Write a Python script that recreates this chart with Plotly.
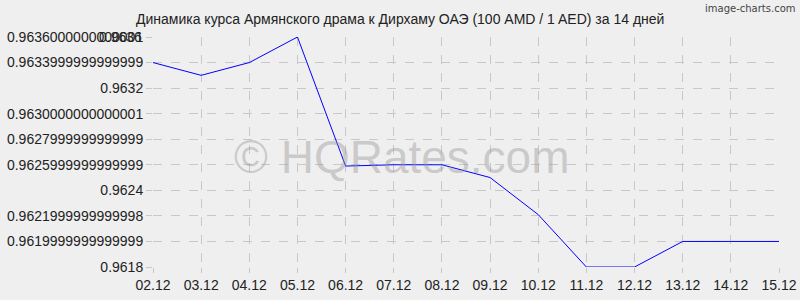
import plotly.graph_objects as go

dates = ["02.12", "03.12", "04.12", "05.12", "06.12", "07.12", "08.12",
         "09.12", "10.12", "11.12", "12.12", "13.12", "14.12", "15.12"]
rates = [0.9634, 0.9633, 0.9634, 0.9636, 0.96259, 0.9626, 0.9626,
         0.9625, 0.96221, 0.9618, 0.9618, 0.9620, 0.9620, 0.9620]
y_tickvals = [0.9636, 0.9634, 0.9632, 0.9630, 0.9628, 0.9626, 0.9624, 0.9622, 0.9620, 0.9618]
y_ticktext = ["0.9636000000000001", "0.9633999999999999", "0.9632", "0.9630000000000001",
              "0.9627999999999999", "0.9625999999999999", "0.9624", "0.9621999999999998",
              "0.9619999999999999", "0.9618"]
title = "Динамика курса Армянского драма к Дирхаму ОАЭ (100 AMD / 1 AED) за 14 дней"

font = "Liberation Sans, Arial, sans-serif"

fig = go.Figure()
fig.add_trace(go.Scatter(x=dates, y=rates, mode="lines",
                         line=dict(color="#0000ff", width=1), hoverinfo="skip"))

fig.update_layout(
    width=800, height=300,
    margin=dict(l=153, r=21, t=37, b=33),
    paper_bgcolor="#efefef", plot_bgcolor="#efefef",
    showlegend=False,
    font=dict(family=font, size=14, color="#222222"),
    xaxis=dict(type="category", range=[0, 13], showgrid=True, gridcolor="#c8c8c8",
               griddash="dash", gridwidth=1, zeroline=False, showline=False,
               ticks="outside", ticklen=5, tickcolor="#c8c8c8", automargin=False,
               tickfont=dict(family=font, size=14, color="#222222")),
    yaxis=dict(range=[0.9618, 0.9636], tickvals=y_tickvals, ticktext=y_ticktext,
               showgrid=True, gridcolor="#c8c8c8", griddash="dash", gridwidth=1,
               zeroline=False, showline=False, ticks="outside", ticklen=6,
               tickcolor="#c8c8c8", automargin=False,
               tickfont=dict(family=font, size=14, color="#222222")),
    annotations=[
        dict(text=title, xref="paper", yref="paper", x=0.395, y=1, yshift=18,
             xanchor="center", yanchor="middle", showarrow=False,
             font=dict(family=font, size=14, color="#222222")),
        dict(text="0.9636", xref="paper", yref="y", x=0, y=0.9636, xshift=-9,
             xanchor="right", yanchor="middle", showarrow=False,
             font=dict(family=font, size=14, color="#222222")),
        dict(text="© HQRates.com", xref="paper", yref="paper", x=0.397, y=0.48,
             xanchor="center", yanchor="middle", showarrow=False,
             font=dict(family=font, size=46, color="rgba(150,150,150,0.42)")),
        dict(text="image-charts.com", xref="paper", yref="paper", x=1, y=1,
             xshift=19, yshift=29, xanchor="right", yanchor="middle", showarrow=False,
             font=dict(family="DejaVu Sans, sans-serif", size=10, color="#444444")),
    ],
)

fig.write_html("out.html")
